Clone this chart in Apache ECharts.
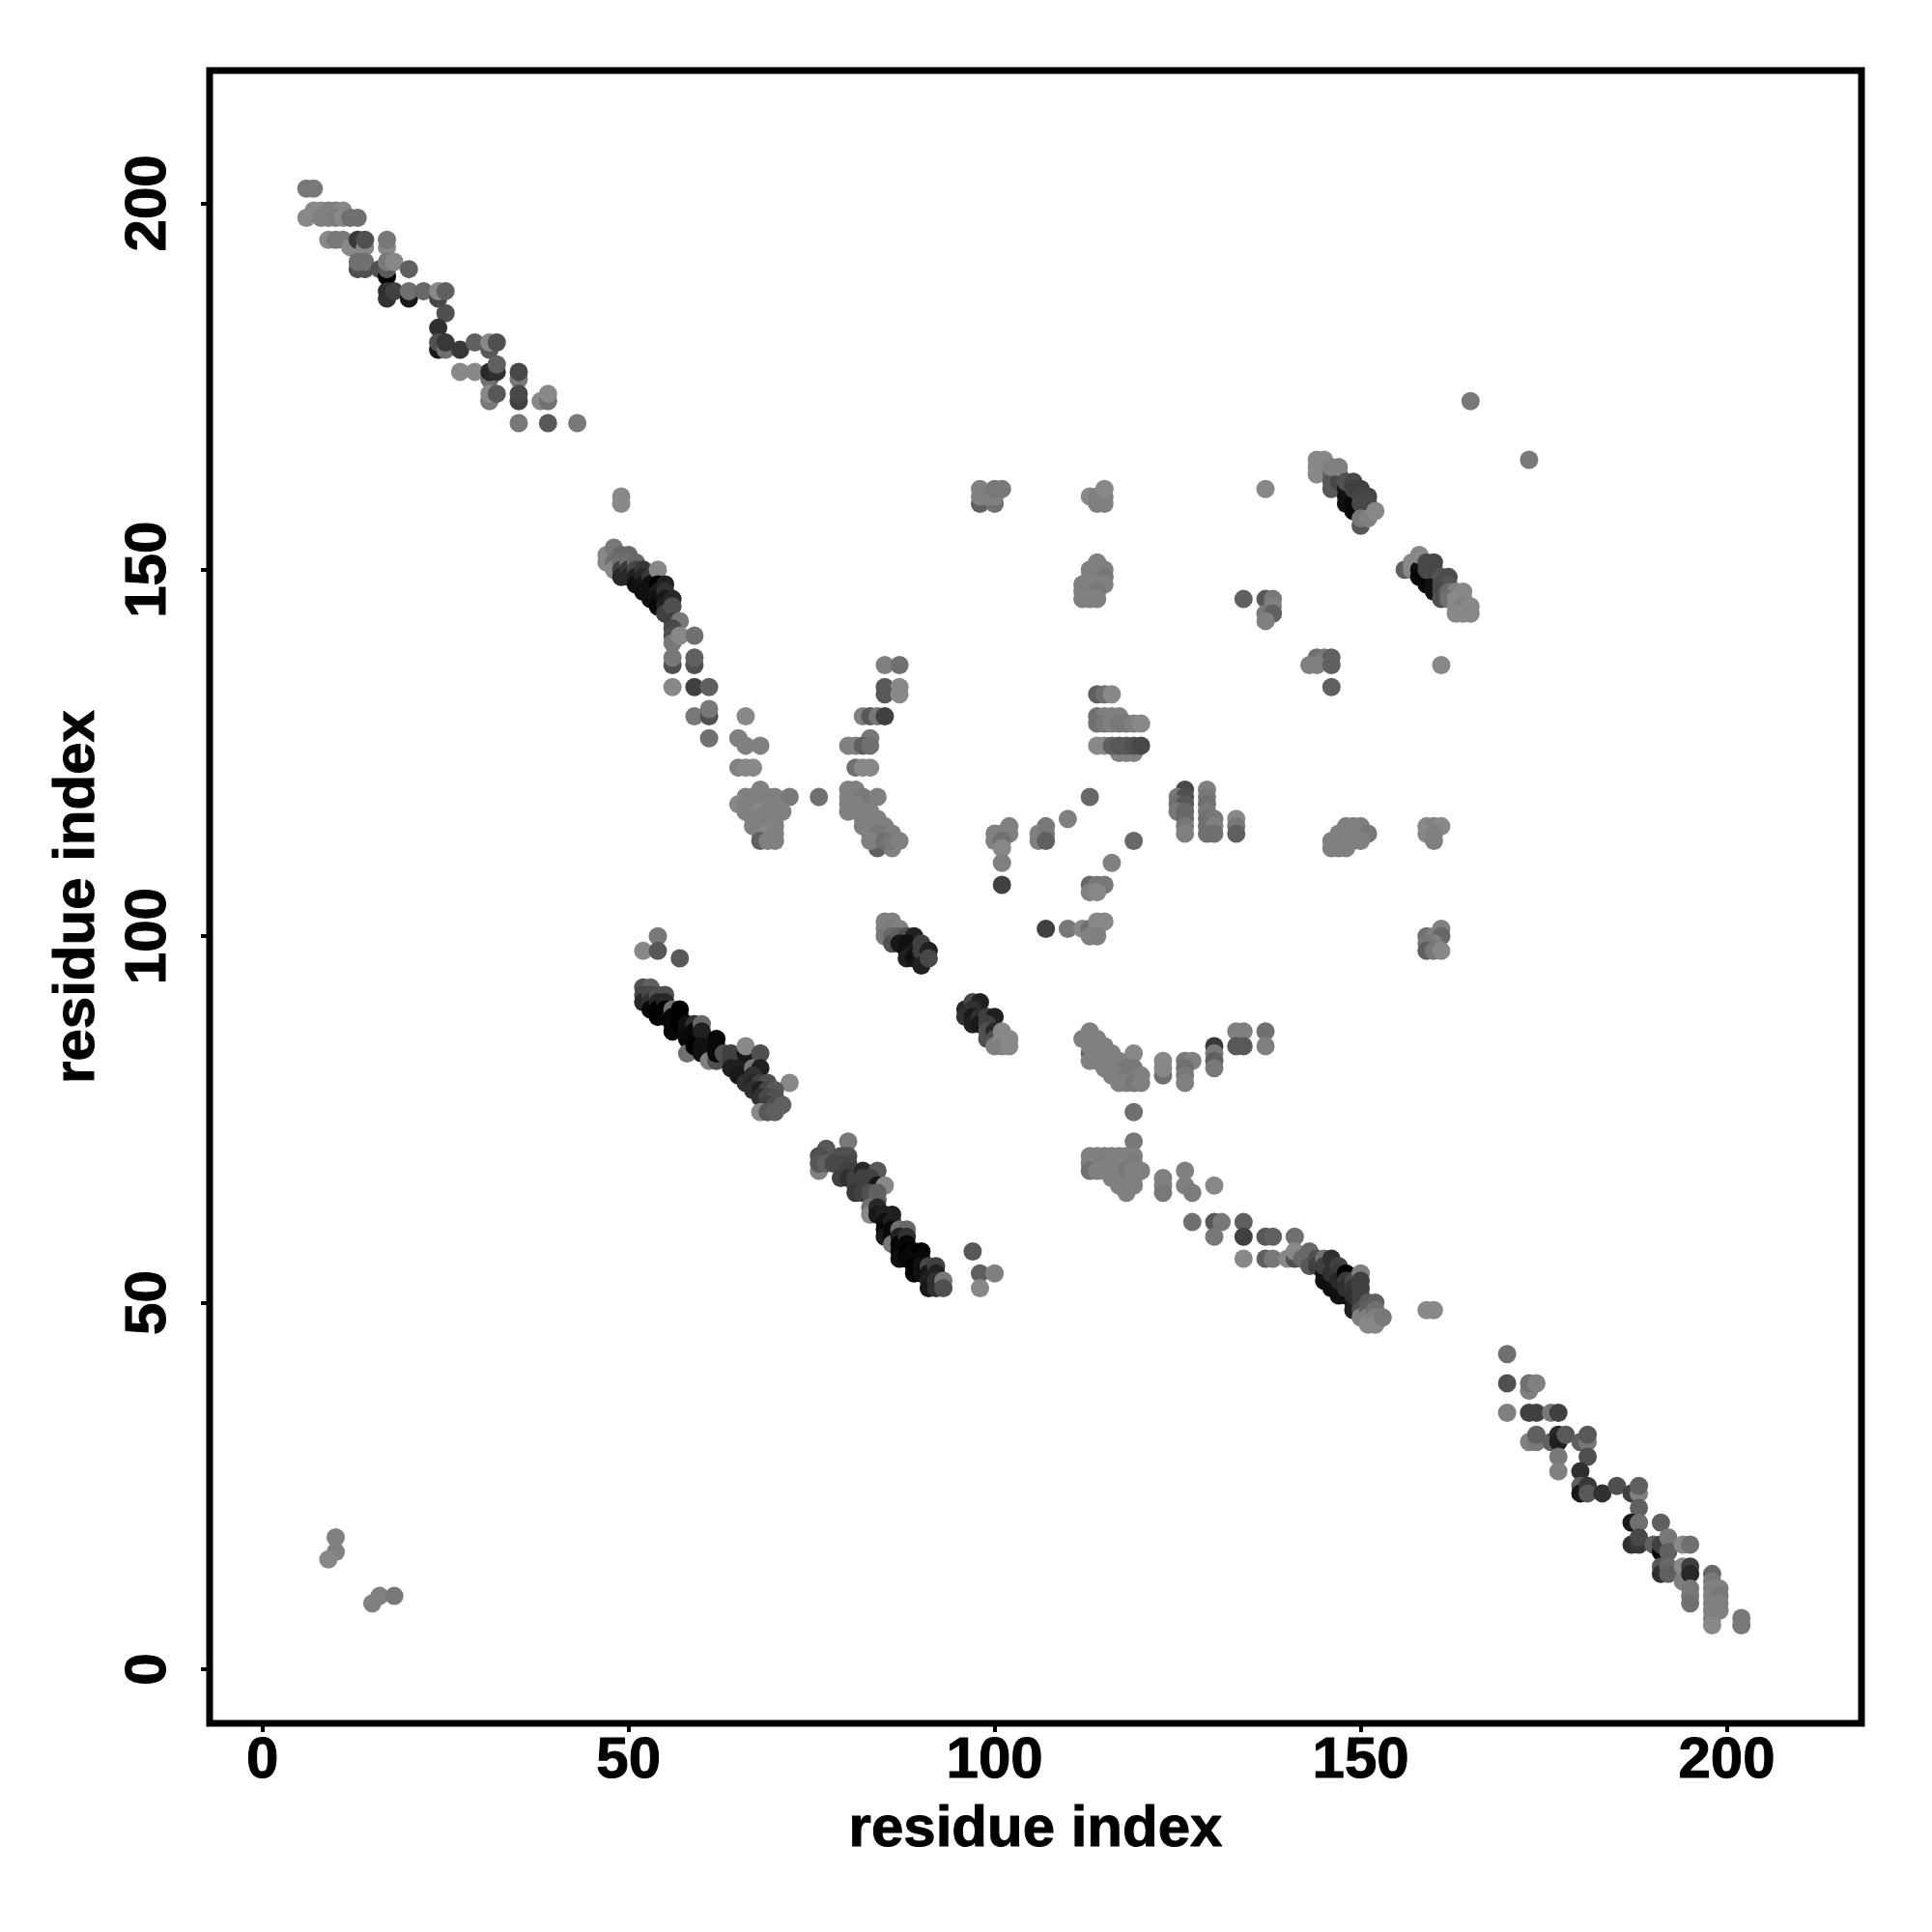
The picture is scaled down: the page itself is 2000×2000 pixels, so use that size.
<!DOCTYPE html>
<html><head><meta charset="utf-8">
<style>html,body{margin:0;padding:0;background:#fff}#c{width:2000px;height:2000px}</style>
<script src="https://cdn.jsdelivr.net/npm/echarts@6/dist/echarts.min.js"></script>
</head><body><div id="c"></div>
<script>
// contact points: [residue x, residue y, grey score 0..136]
const nw = [[6,202,120],[7,202,120],[7,199,136],[8,199,136],[9,199,128],[10,199,128],[11,199,136],
[6,198,136],[8,198,128],[9,198,128],[10,198,124],[11,198,136],[12,198,112],[13,198,112],
[9,195,136],[10,195,120],[11,195,120],[12,194,136],[13,195,56],[14,194,136],[14,195,80],[17,194,136],[17,195,120],
[13,191,80],[14,191,80],[13,192,112],[14,192,112],[16,191,80],[17,190,0],[17,191,90],[17,192,120],[18,192,136],[20,191,96],
[17,187,48],[17,188,48],[18,188,64],[20,187,24],[20,188,112],[22,188,104],[24,187,72],[24,188,136],[25,188,96],[25,185,80],[24,183,48],
[24,180,24],[24,181,80],[25,180,112],[25,181,56],[27,180,56],[29,181,96],[31,180,88],[31,181,136],[32,181,80],
[27,177,136],[29,177,136],[31,176,112],[31,177,40],[32,177,48],[32,178,96],[35,176,120],[35,177,72],
[31,173,120],[31,174,136],[32,174,88],[35,173,64],[35,174,72],[38,173,136],[39,173,112],[39,174,136],
[35,170,120],[39,170,88],[43,170,120]];
const ridge1 = [[49,160,136],[49,159,136],[47,152,136],[47,151,136],[48,153,120],[48,151,112],[48,150,136],[49,152,104],[49,151,112],
[49,150,64],[49,149,40],[50,152,104],[50,151,112],[50,150,56],[50,149,40],[51,151,104],[51,150,72],[51,149,32],[51,148,16],
[52,150,56],[52,149,40],[52,148,24],[52,147,16],[53,149,56],[53,148,16],[53,147,16],[53,146,16],[54,150,136],[54,148,0],[54,147,24],[54,146,16],[54,145,8],
[55,148,32],[55,147,48],[55,146,24],[55,145,32],[55,144,64],[56,146,40],[56,145,80],[56,143,64],[57,143,120],
[56,142,72],[56,141,80],[56,140,120],[57,141,136],[59,141,112],[56,137,80],[56,138,120],[59,137,80],[59,138,96],
[56,134,136],[59,134,64],[61,134,96],[59,130,120],[61,130,80],[61,131,120],[61,127,112],[66,130,136]];
const vee = [[65,127,128],[66,126,128],[68,126,128],[65,123,128],[66,123,136],[67,123,136],[68,120,128],[68,118,64],[84,113,72],
[66,119,128],[67,119,128],[68,119,128],[69,119,128],[70,119,128],[72,119,120],[76,119,112],[65,118,136],[66,118,128],[67,118,128],[69,118,128],[70,118,128],
[66,117,128],[67,117,128],[68,117,136],[69,117,128],[70,117,128],[71,117,128],[67,116,128],[68,116,128],[69,116,128],[70,116,128],
[67,115,128],[68,115,128],[69,115,128],[70,115,128],[68,114,128],[69,114,136],[70,114,128],[68,113,96],[69,113,128],[70,113,128],
[85,137,128],[87,137,112],[85,134,88],[87,134,136],[85,133,88],[87,133,136],[82,130,128],[83,130,88],[84,130,120],[85,130,64],
[83,127,120],[80,126,128],[81,126,128],[82,126,96],[83,126,112],[81,123,112],[82,123,136],[83,123,136],
[80,120,128],[81,120,128],[80,119,128],[81,119,128],[82,119,120],[84,119,128],[80,118,128],[81,118,128],[80,117,128],[82,117,128],[83,117,128],
[82,116,128],[83,116,128],[84,116,128],[82,115,128],[83,115,128],[84,115,128],[85,115,128],[83,114,128],[84,114,120],[85,114,120],[86,114,128],
[84,112,96],[86,112,128],[83,113,128],[85,113,112],[86,113,120],[87,113,128]];
const midUpper = [[98,159,96],[100,159,112],[98,161,128],[98,160,128],[99,160,128],[100,160,128],[100,161,120],[101,161,120],
[113,160,136],[114,160,128],[114,159,128],[115,159,128],[115,160,128],[115,161,136],
[113,148,80],[114,151,128],[113,150,128],[114,150,128],[115,150,128],[113,149,128],[114,149,128],[115,149,120],[112,148,128],[114,148,128],[115,148,128],[112,147,128],[113,147,128],[114,147,120],[112,146,128],[113,146,128],[114,146,128],
[137,161,136],[134,146,96],[137,146,88],[138,146,120],[138,145,128],[137,144,120],[138,144,96],[137,143,128],
[144,138,112],[145,138,120],[146,138,96],[143,137,128],[144,137,128],[146,137,96],[146,134,96],[161,137,136],[165,173,120],[173,165,120]];
const ridge2 = [[144,165,136],[145,165,136],[144,164,136],[144,163,136],[146,163,104],[146,162,88],[146,161,88],[147,163,96],[147,162,72],
[148,161,24],[148,160,16],[148,159,16],[149,160,16],[149,159,8],[149,158,8],[150,158,8],[151,158,8],
[146,164,128],[147,164,128],[148,162,80],[149,162,72],[149,161,64],[150,161,64],[150,160,68],[151,160,68],[150,159,72],[151,159,72],
[150,156,88],[150,157,120],[151,157,128],[152,158,136]];
const ridge3 = [[156,150,96],[157,151,136],[157,150,136],[158,150,16],[158,149,8],[159,149,8],[159,148,8],[160,148,16],[160,147,16],
[158,152,136],[159,151,72],[160,151,72],[159,150,72],[160,150,72],[161,149,84],[162,149,76],[161,148,76],[162,148,84],[161,147,72],[161,146,80],
[162,147,104],[163,147,128],[164,147,136],[162,146,112],[163,146,136],[164,146,136],[163,145,136],[164,145,128],[165,145,136],[163,144,136],[164,144,136],[165,144,136]];
const midBand = [[114,133,96],[115,133,112],[116,133,136],[114,130,112],[115,130,128],[116,130,128],[117,130,128],[114,129,112],[115,129,120],[116,129,128],[117,129,120],[118,129,120],[119,129,128],[120,129,136],
[117,125,128],[118,125,128],[119,125,128],[114,126,136],[115,126,136],[116,126,96],[117,126,88],[118,126,88],[119,126,80],[120,126,72],
[113,119,104],[110,116,128],[119,113,104],[116,110,128],
[126,120,72],[129,120,128],[125,119,120],[126,119,80],[129,119,120],[125,118,112],[126,118,88],[129,118,112],[125,117,120],[126,117,104],[129,117,120],[126,116,104],[129,116,112],[130,116,120],[133,116,136],[126,115,120],[129,115,112],[130,115,128],[133,115,120],[126,114,128],[129,114,112],[130,114,112],[133,114,96],
[102,115,128],[100,114,128],[101,114,128],[102,114,128],[100,113,128],[101,113,112],[101,112,136],[101,110,128],[101,107,64],
[107,115,120],[106,114,128],[107,114,120],[106,113,128],[107,113,96],
[148,113,96],[146,113,128],[147,113,128],[149,113,128],[146,112,128],[147,112,128],[148,112,128],[148,115,128],[149,115,128],[150,115,128],[147,114,128],[148,114,128],[149,114,128],[150,114,128],[151,114,120],[150,113,128],
[159,115,136],[160,115,128],[161,115,136],[159,114,136],[160,114,128],[160,113,128],
[113,107,104],[114,107,120],[115,107,120],[113,106,128],[114,106,136],
[107,101,64],[110,101,120],[112,101,136],[113,101,112],[114,101,128],[114,102,136],[115,102,136],[113,100,128],[114,100,128],
[161,101,128],[159,100,112],[160,100,128],[161,100,104],[160,99,128],[159,99,120],[159,98,96],[160,98,120],[161,98,136]];
const lowerBand = [[113,84,96],[114,84,96],[113,87,128],[112,86,128],[113,86,128],[114,86,128],[113,85,128],[114,85,128],[115,85,128],[115,84,128],[116,84,128],[119,84,136],
[113,83,128],[114,83,128],[115,83,128],[116,83,128],[117,83,128],[115,82,128],[116,82,128],[117,82,128],[118,82,120],[119,82,120],[116,81,128],[117,81,128],[118,81,120],[119,81,120],[120,81,128],[117,80,128],[118,80,128],[119,80,120],[120,80,128],
[123,81,112],[123,82,136],[123,83,136],[126,83,120],[127,83,128],[126,82,112],[126,81,120],[126,80,128],
[130,85,56],[130,84,120],[130,83,96],[130,82,120],[133,87,128],[134,87,128],[133,85,88],[134,85,88],[137,87,112],[137,85,128]];
const ridge4 = [[52,98,136],[54,100,120],[54,98,88],[57,97,88],[52,93,80],[53,93,96],[52,92,72],[52,91,40],[53,92,72],[53,91,48],[54,92,80],[55,92,80],
[53,90,8],[54,91,40],[54,90,0],[54,89,0],[55,91,40],[55,90,0],[55,89,8],[56,90,112],[56,89,8],[56,88,8],[56,87,8],[57,90,0],[57,89,0],[57,88,0],
[58,88,16],[58,87,16],[58,86,8],[58,84,112],[59,88,48],[59,87,8],[59,86,8],[59,85,0],[60,88,104],[60,87,32],[60,85,16],[60,84,16],[61,84,16],[61,83,128],[62,83,80],[62,86,8],[62,85,8],[62,84,8],
[63,84,80],[64,84,64],[64,83,64],[65,83,64],[64,82,32],[65,82,32],[65,81,24],[66,81,24],[66,84,24],[66,85,136],[67,82,120],[68,84,80],[68,82,32],[67,81,48],
[66,80,48],[67,80,40],[68,80,64],[69,80,80],[72,80,136],[67,79,48],[68,79,32],[69,79,72],[70,79,88],[68,78,48],[69,78,72],[70,78,80],[69,77,64],[70,77,80],[71,77,96],[68,76,136],[69,76,88],[70,76,96]];
const ridge5 = [[85,102,128],[86,102,128],[85,101,128],[86,101,124],[87,101,128],[85,100,120],[86,100,104],[86,99,80],[87,100,96],[88,100,80],[89,100,32],
[87,99,24],[88,99,16],[88,98,16],[89,98,24],[90,99,64],[88,97,32],[89,97,16],[90,97,24],[90,98,64],[90,96,32],[91,98,32],[91,97,72]];
const ridge6 = [[96,90,40],[96,89,48],[97,91,72],[98,91,32],[97,90,48],[97,89,24],[97,88,32],[98,89,48],[98,88,24],[99,89,64],[100,89,32],[99,88,64],[99,87,80],[99,86,80],
[100,87,40],[100,86,80],[100,85,128],[101,87,136],[101,86,136],[101,85,128],[102,86,136],[102,85,136]];
const band70 = [[118,67,64],[119,76,112],[119,72,120],[113,70,128],[114,70,128],[115,70,128],[116,70,128],[117,70,128],[118,70,128],[119,70,128],[113,69,128],[114,69,128],[115,69,124],[116,69,128],[117,69,128],[118,69,128],[119,69,124],
[113,68,112],[114,68,128],[115,68,128],[116,68,128],[117,68,128],[118,68,120],[119,68,128],[120,68,128],[116,67,128],[119,67,128],[117,66,128],[118,66,128],[119,66,128],[118,65,128],
[123,67,128],[123,66,128],[123,65,120],[126,68,128],[126,66,128],[127,65,124],[130,66,136]];
const ridge7 = [[80,72,120],[77,71,88],[76,70,80],[79,70,80],[80,70,80],[76,68,128],[76,69,88],[77,69,96],[78,69,72],[79,69,72],[80,69,72],[79,67,64],[80,68,64],[80,67,48],[81,67,64],[82,68,40],[84,68,88],
[82,67,64],[83,67,64],[81,66,64],[82,66,64],[84,66,24],[85,66,136],[81,65,56],[82,65,64],[83,65,80],[84,65,96],[84,64,96],[83,63,112],[83,62,136],
[84,63,40],[84,62,24],[85,62,32],[86,62,32],[85,61,16],[85,60,8],[85,59,24],[86,61,32],[86,60,8],[86,59,8],[86,58,120],[87,60,112],[88,60,104],[87,59,32],[87,58,8],[87,57,8],[87,56,16],[88,59,48],[88,58,8],[88,57,0],[88,56,8],
[89,57,8],[89,56,8],[89,55,0],[89,54,0],[90,57,0],[90,56,8],[90,55,16],[90,54,16],[91,55,72],[91,54,24],[91,53,32],[91,52,24],[92,55,64],[92,54,32],[92,53,48],[92,52,48],[93,53,120],[93,52,80],
[97,57,88],[98,54,96],[100,54,128],[98,52,136]];
const ridge8 = [[127,61,112],[130,61,88],[131,61,120],[130,59,120],[134,61,96],[134,59,64],[137,59,88],[138,59,96],[141,59,112],[134,56,136],[137,56,96],[138,56,120],[140,56,136],[141,56,80],[141,57,144],[142,56,104],[143,57,104],
[143,55,88],[144,56,80],[144,55,64],[145,54,16],[145,53,16],[146,53,16],[146,52,16],[147,52,16],[147,51,16],[148,51,16],[149,50,24],[149,49,32],
[145,56,112],[145,55,64],[146,56,48],[146,54,48],[147,55,64],[147,54,56],[147,53,40],[148,54,0],[148,53,56],[148,52,48],[149,53,72],[149,52,56],[149,51,48],[150,54,128],[150,53,64],[150,52,64],[150,51,64],[150,50,64],[150,49,80],[150,48,128],[151,50,88],[151,49,96],[151,48,128],[151,47,136],[152,50,96],[152,49,112],[152,48,128],[152,47,136],[153,48,120],
[159,49,136],[160,49,136]];
const se = [[170,43,112],[170,39,80],[173,38,128],[173,39,112],[174,39,128],[170,35,128],[173,35,64],[174,35,64],[176,35,120],[177,35,64],
[173,31,128],[174,31,120],[174,32,96],[176,31,96],[177,32,40],[177,31,32],[178,32,88],[177,29,120],[177,27,128],[180,31,96],[181,31,120],[181,32,88],[181,29,80],[180,27,48],
[180,25,96],[180,24,24],[181,25,56],[181,24,88],[183,24,48],[185,25,80],[187,24,64],[188,24,128],[188,25,96],[188,22,96],[187,20,24],[188,20,112],[191,20,96],
[187,17,48],[188,17,56],[188,18,72],[190,17,96],[191,16,0],[191,17,64],[192,18,120],[192,16,96],[194,17,136],[195,17,112],
[191,14,88],[191,13,48],[192,14,104],[192,13,96],[194,14,136],[194,12,128],[195,14,64],[195,13,40],[195,11,120],[195,10,120],[195,9,112],
[198,13,104],[198,12,120],[198,11,128],[199,11,128],[198,10,128],[199,10,120],[198,9,128],[199,9,128],[198,8,128],[199,8,128],[198,7,128],[198,6,136],[202,7,120],[202,6,120]];
const sw = [[10,18,128],[10,16,128],[9,15,136],[15,9,128],[16,10,128],[18,10,120]];
const tickValues = [0, 50, 100, 150, 200];
const axisTitle = 'residue index';

const points = [].concat(nw, ridge1, vee, midUpper, ridge2, ridge3, midBand, lowerBand, ridge4, ridge5, ridge6, band70, ridge7, ridge8, se, sw);
const font = '"Liberation Sans", Arial, sans-serif';
function axis(min, max, gap, margin) {
  return {
    type: 'value', min: min, max: max,
    name: axisTitle, nameLocation: 'middle', nameGap: gap,
    nameTextStyle: {fontFamily: font, fontWeight: 'bold', fontSize: 60, color: '#000', textBorderColor: '#000', textBorderWidth: 1},
    axisLine: {show: false, onZero: false}, splitLine: {show: false},
    axisTick: {show: true, length: 9, lineStyle: {color: '#000', width: 4}, customValues: tickValues},
    axisLabel: {show: true, fontFamily: font, fontWeight: 'bold', fontSize: 60, color: '#000', textBorderColor: '#000', textBorderWidth: 1, margin: margin, customValues: tickValues, formatter: v => String(v)}
  };
}
const chart = echarts.init(document.getElementById('c'), null, {renderer: 'canvas'});
const xA = axis(-7.22, 218.4, 80, 9);
const yA = axis(-7.38, 218.1, 107, 33);
yA.axisLabel.rotate = 90;
chart.setOption({
  animation: false, backgroundColor: '#fff',
  grid: {left: 217, top: 73, width: 1710, height: 1711, show: true, borderColor: '#000', borderWidth: 7, backgroundColor: 'transparent', z: 5},
  xAxis: xA, yAxis: yA,
  visualMap: {show: false, type: 'continuous', dimension: 2, min: 0, max: 136, inRange: {color: ['#000000', '#888888']}},
  series: [{type: 'scatter', data: points, symbol: 'circle', symbolSize: 19, itemStyle: {opacity: 1}, clip: false, progressive: 0, large: false}]
});
</script></body></html>
